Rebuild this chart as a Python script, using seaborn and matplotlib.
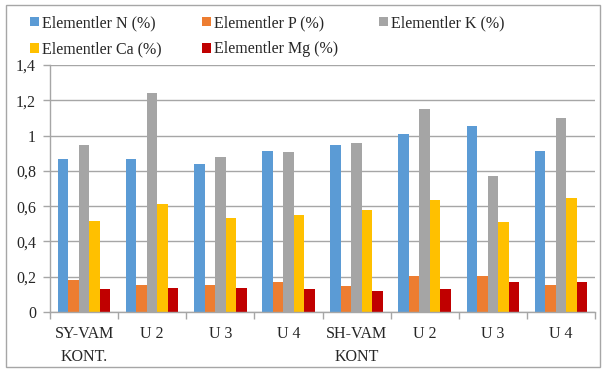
import numpy as np
import pandas as pd
import matplotlib
matplotlib.use('Agg')
import matplotlib.pyplot as plt
import seaborn as sns
from matplotlib.patches import Rectangle

# values
groups = ['SY-VAM\nKONT.', 'U 2', 'U 3', 'U 4', 'SH-VAM\nKONT', 'U 2 ', 'U 3 ', 'U 4 ']
series = ['Elementler N (%)', 'Elementler P (%)', 'Elementler K (%)',
          'Elementler Ca (%)', 'Elementler Mg (%)']
n_vals = [0.866, 0.866, 0.837, 0.915, 0.947, 1.007, 1.056, 0.915]
p_vals = [0.181, 0.153, 0.153, 0.170, 0.145, 0.204, 0.204, 0.153]
k_vals = [0.947, 1.243, 0.880, 0.905, 0.956, 1.149, 0.771, 1.098]
ca_vals = [0.516, 0.610, 0.535, 0.550, 0.576, 0.635, 0.508, 0.644]
mg_vals = [0.129, 0.136, 0.136, 0.128, 0.121, 0.128, 0.170, 0.170]
colors = ['#5B9BD5', '#ED7D31', '#A5A5A5', '#FFC000', '#C00000']
y_ticks = [0, 0.2, 0.4, 0.6, 0.8, 1, 1.2, 1.4]
y_labels = ['0', '0,2', '0,4', '0,6', '0,8', '1', '1,2', '1,4']

rows = []
for s, vals in zip(series, [n_vals, p_vals, k_vals, ca_vals, mg_vals]):
    for g, v in zip(groups, vals):
        rows.append({'Grup': g, 'Seri': s, 'Deger': v})
df = pd.DataFrame(rows)

sns.set_style('white')
plt.rcParams['font.family'] = ['Liberation Serif', 'DejaVu Serif']

fig = plt.figure(figsize=(6.06, 3.71), dpi=100)
ax = fig.add_axes([50 / 606, 59 / 371, 545 / 606, 247 / 371])

sns.barplot(data=df, x='Grup', y='Deger', hue='Seri', order=groups,
            hue_order=series, palette=colors, width=0.77, saturation=1,
            linewidth=0, ax=ax, legend=True)

ax.set_xlim(-0.5, len(groups) - 0.5)
ax.set_ylim(0, 1.4)
ax.set_yticks(y_ticks)
ax.set_yticklabels(y_labels, fontsize=11.5)
ax.set_xticks(range(len(groups)))
ax.set_xticklabels([g.strip() for g in groups], fontsize=11.5, linespacing=1.6)
ax.set_xticks(np.arange(-0.5, len(groups)), minor=True)
ax.tick_params(axis='x', which='major', length=0, pad=10)
ax.tick_params(axis='x', which='minor', length=5, color='#a6a6a6', width=1, direction='out', bottom=True)
ax.tick_params(axis='y', length=5, color='#a6a6a6', width=1, direction='out', left=True, pad=5)
ax.set_xlabel('')
ax.set_ylabel('')
ax.grid(axis='y', color='#a6a6a6', linewidth=1)
ax.set_axisbelow(True)
for side in ['top', 'right']:
    ax.spines[side].set_visible(False)
for side in ['left', 'bottom']:
    ax.spines[side].set_color('#a6a6a6')
    ax.spines[side].set_linewidth(1)

# legend: row 1 N, P, K / row 2 Ca, Mg
handles, labels = ax.get_legend_handles_labels()
ax.get_legend().remove()
order = [0, 3, 1, 4, 2]
fig.legend([handles[i] for i in order], [labels[i] for i in order],
           loc='upper left', bbox_to_anchor=(30 / 606, 1 - 15 / 371), ncol=3,
           frameon=False, fontsize=11.5, handlelength=0.55, handleheight=0.55,
           handletextpad=0.2, columnspacing=2.55, labelspacing=0.65,
           borderaxespad=0, borderpad=0)

# outer frame around the chart
fig.patches.append(Rectangle((6 / 606, 4 / 371), 594 / 606, 362 / 371,
                             transform=fig.transFigure, fill=False,
                             edgecolor='#a6a6a6', linewidth=1))

fig.savefig('out.png', dpi=100)
